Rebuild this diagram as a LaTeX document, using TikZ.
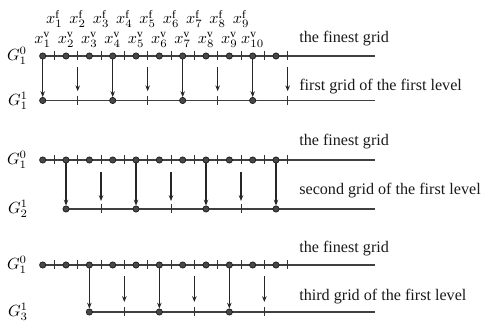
\documentclass[tikz,border=0pt]{standalone}
\usepackage{fontspec}
\setmainfont{Liberation Serif}
\usetikzlibrary{arrows.meta,calc}
\begin{document}
\begin{tikzpicture}[x=0.62pt,y=-0.62pt,
  dot/.style={circle,fill=black!72,draw=black!90,line width=0.4pt,inner sep=0pt,minimum size=3.9pt},
  gline/.style={draw=black!75,line width=0.75pt},
  tickmark/.style={draw=black!80,line width=0.6pt},
  arr/.style={draw=black!85,line width=0.7pt,-{Stealth[length=3.6pt,width=2.8pt]}},
  lab/.style={font=\fontsize{10}{12}\selectfont,anchor=west,inner sep=0pt,text=black!90},
  glab/.style={inner sep=0pt,font=\fontsize{10}{12}\selectfont},
  xlab/.style={inner sep=0pt,font=\fontsize{10}{12}\selectfont},
  ]
\useasboundingbox (0,0) rectangle (484,326);
% labels of the points
\foreach \i in {1,...,10}
  \node[xlab] (xv\i) at ({42.7+23.33*(\i-1)},40) {$x^{\mathrm{v}}_{\i}$};
\foreach \i in {1,...,9}
  \node[xlab] (xf\i) at ({54.37+23.33*(\i-1)},19) {$x^{\mathrm{f}}_{\i}$};
% three panels
\foreach \p/\ya/\yb/\gs/\txt/\ty/\tyb/\sa/\eb/\dl/\tl in {
   1/56/100.5/1/first/39/86.7/10.7/9.3/{1,4,7,10}/{2,5,8,11},
   2/160/209/2/second/141.7/190.7/12/8/{2,5,8,11}/{3,6,9},
   3/265/312/3/third/249/296.7/11.5/10/{3,6,9}/{4,7,10}} {
  \node[glab] (Ga\p) at (17,\ya) {$G_1^0$};
  \node[glab] (Gb\p) at (18,\yb) {$G_{\gs}^1$};
  \coordinate (La\p) at (42.7,\ya);
  \coordinate (Ea\p) at (375,\ya);
  \draw[gline] (La\p) -- (Ea\p);
  \foreach \i in {1,...,11} {
    \coordinate (t\p-\i) at ({54.37+23.33*(\i-1)},\ya);
    \draw[tickmark] ($(t\p-\i)+(0,-4.5)$) -- ($(t\p-\i)+(0,4.5)$);
  }
  \foreach \i in {1,...,11}
    \node[dot] (d\p-\i) at ({42.7+23.33*(\i-1)},\ya) {};
  \node[lab] (fin\p) at (299,\ty) {the finest grid};
  \node[lab] (lev\p) at (299,\tyb) {\txt\ grid of the first level};
  % coarse grid
  \coordinate (Eb\p) at (375,\yb);
  \foreach \j in \tl {
    \coordinate (m\p-\j) at ({54.37+23.33*(\j-1)},\yb);
    \coordinate (ua\p-\j) at ({54.37+23.33*(\j-1)},\ya+\sa);
    \coordinate (ub\p-\j) at ({54.37+23.33*(\j-1)},\yb-\eb);
  }
  \foreach \i [count=\k] in \dl {
    \ifnum\k=1 \coordinate (Lb\p) at ({42.7+23.33*(\i-1)},\yb); \fi
  }
  \draw[gline] (Lb\p) -- (Eb\p);
  \foreach \j in \tl {
    \draw[tickmark] ($(m\p-\j)+(0,-4.5)$) -- ($(m\p-\j)+(0,4.5)$);
    \draw[arr] (ua\p-\j) -- (ub\p-\j);
  }
  \foreach \i in \dl {
    \node[dot] (c\p-\i) at ({42.7+23.33*(\i-1)},\yb) {};
    \draw[arr] (d\p-\i) -- (c\p-\i);
  }
}
\end{tikzpicture}
\end{document}
